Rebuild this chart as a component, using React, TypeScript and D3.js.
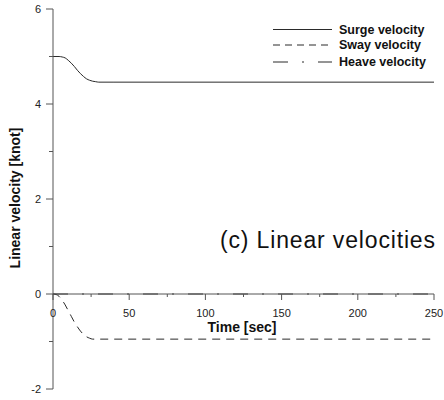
import React from "react";
import * as d3 from "d3";

// Time samples (sec) and the three linear velocity components (knot)
const surgeTime = [0, 4, 6, 8, 10, 12, 14, 16, 18, 20, 22, 24, 26, 28, 30, 40, 250];
const surgeVel = [5.0, 5.0, 4.99, 4.97, 4.92, 4.86, 4.79, 4.71, 4.64, 4.58, 4.53, 4.5, 4.48, 4.47, 4.46, 4.46, 4.46];

const swayTime = [0, 2, 4, 6, 8, 10, 12, 14, 16, 18, 20, 22, 24, 26, 28, 250];
const swayVel = [0, -0.01, -0.05, -0.13, -0.23, -0.35, -0.47, -0.59, -0.69, -0.78, -0.85, -0.9, -0.93, -0.95, -0.95, -0.95];

const heaveTime = [0, 250];
const heaveVel = [0, 0];

const seriesNames = ["Surge velocity", "Sway velocity", "Heave velocity"];
const xMajorTicks = [0, 50, 100, 150, 200, 250];
const xMinorTicks = [25, 75, 125, 175, 225];
const yMajorTicks = [-2, 0, 2, 4, 6];
const yMinorTicks = [-1, 1, 3, 5];

const W = 444;
const H = 400;
const FONT = "'Liberation Sans', Arial, Helvetica, sans-serif";

export default function App() {
  const x = d3.scaleLinear().domain([0, 250]).range([53, 434]);
  const y = d3.scaleLinear().domain([-2, 6]).range([389, 9]);

  const line = d3
    .line<[number, number]>()
    .x((d) => x(d[0]))
    .y((d) => y(d[1]))
    .curve(d3.curveMonotoneX);

  const zip = (t: number[], v: number[]) => t.map((tt, i) => [tt, v[i]] as [number, number]);

  const series = [
    { name: seriesNames[0], data: zip(surgeTime, surgeVel), dash: "none", legendDash: "none" },
    { name: seriesNames[1], data: zip(swayTime, swayVel), dash: "8,6", legendDash: "7,5" },
    { name: seriesNames[2], data: zip(heaveTime, heaveVel), dash: "15,14,2,14", legendDash: "15,14,2,14" },
  ];

  const axisColor = "#555";
  const y0 = y(0);
  const xAxisX = x(0);
  const legendRows = [29.5, 45, 62];

  return (
    <svg
      width={W}
      height={H}
      style={{ position: "absolute", left: 0, top: 0, background: "#fff" }}
      fontFamily={FONT}
    >
      <rect width={W} height={H} fill="#fff" />

      {/* data lines */}
      {series.map((s) => (
        <path
          key={s.name}
          d={line(s.data) || ""}
          fill="none"
          stroke="#2a2a2a"
          strokeWidth={1}
          strokeDasharray={s.dash}
        />
      ))}

      {/* y axis */}
      <line x1={xAxisX} x2={xAxisX} y1={y(-2)} y2={y(6)} stroke={axisColor} strokeWidth={1} />
      {yMajorTicks.map((v) => (
        <g key={"ym" + v}>
          <line x1={xAxisX - 7} x2={xAxisX} y1={y(v)} y2={y(v)} stroke={axisColor} />
          <text x={41} y={y(v)} fontSize={11} fill="#222" textAnchor="end" dominantBaseline="central">
            {v}
          </text>
        </g>
      ))}
      {yMinorTicks.map((v) => (
        <line key={"yn" + v} x1={xAxisX - 4} x2={xAxisX} y1={y(v)} y2={y(v)} stroke={axisColor} />
      ))}

      {/* x axis at zero */}
      <line x1={x(0)} x2={x(250)} y1={y0} y2={y0} stroke={axisColor} strokeWidth={1} />
      {xMajorTicks.map((v) => (
        <g key={"xm" + v}>
          <line x1={x(v)} x2={x(v)} y1={y0} y2={y0 + 6} stroke={axisColor} />
          <text x={x(v)} y={313} fontSize={11} fill="#222" textAnchor="middle" dominantBaseline="central">
            {v}
          </text>
        </g>
      ))}
      {xMinorTicks.map((v) => (
        <line key={"xn" + v} x1={x(v)} x2={x(v)} y1={y0} y2={y0 + 3} stroke={axisColor} />
      ))}

      {/* axis titles */}
      <text x={242} y={327} fontSize={14} fontWeight="bold" fill="#111" textAnchor="middle" dominantBaseline="central">
        Time [sec]
      </text>
      <text
        transform={`translate(15,198) rotate(-90)`}
        fontSize={14}
        fontWeight="bold"
        fill="#111"
        textAnchor="middle"
        dominantBaseline="central"
      >
        Linear velocity [knot]
      </text>

      {/* legend */}
      {series.map((s, i) => (
        <g key={"lg" + s.name}>
          <line
            x1={273}
            x2={332}
            y1={legendRows[i]}
            y2={legendRows[i]}
            stroke="#2a2a2a"
            strokeDasharray={s.legendDash}
          />
          <text x={339} y={legendRows[i]} fontSize={12.5} fontWeight="bold" fill="#111" dominantBaseline="central">
            {s.name}
          </text>
        </g>
      ))}

      {/* panel caption */}
      <text x={220} y={248} fontSize={23} fill="#111" textLength={215} lengthAdjust="spacing">
        (c) Linear velocities
      </text>
    </svg>
  );
}
